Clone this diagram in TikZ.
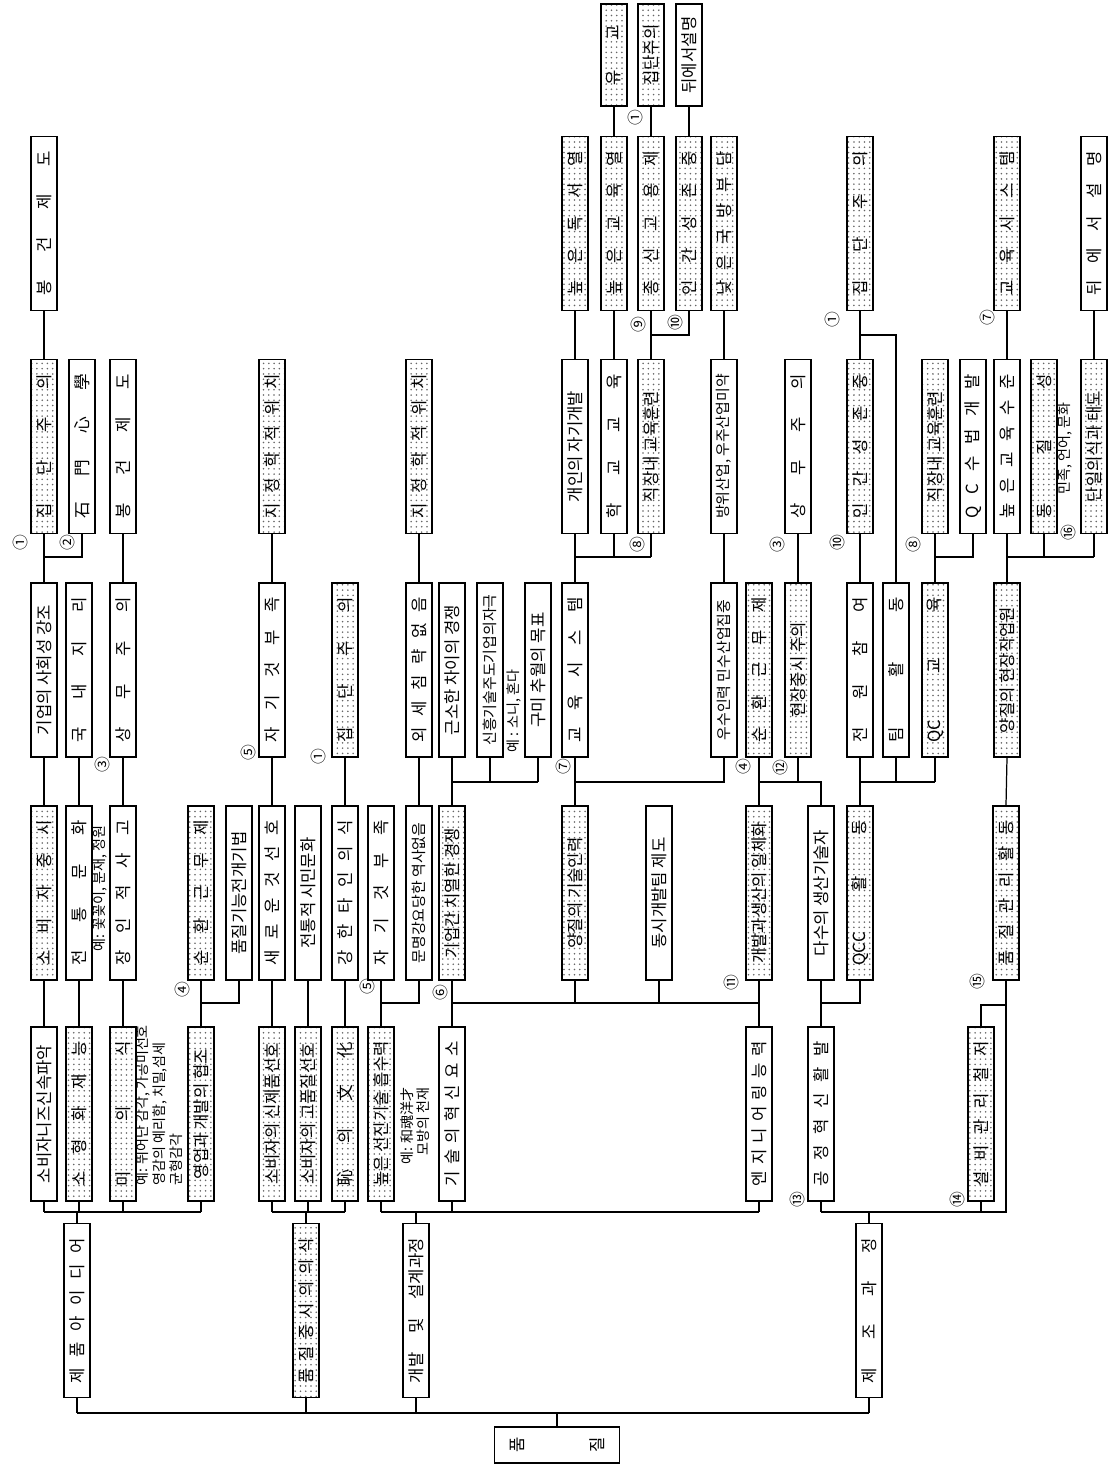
\documentclass[tikz,border=0pt]{standalone}
\usepackage{fontspec}
\setmainfont{Noto Sans CJK KR}
\usetikzlibrary{patterns}
\newcommand{\spr}[1]{\makebox[2.9cm][s]{#1}}

\begin{document}
\begin{tikzpicture}[x=0.02cm, y=-0.02cm,
      box/.style={draw, line width=0.8pt, rotate=90, minimum width=3.48cm, minimum height=0.52cm,
                  inner sep=1pt, font=\fontsize{9.5}{10}\selectfont},
      dotbox/.style={box, pattern=dots, pattern color=black!60},
      shortbox/.style={minimum width=2.04cm},
      tight/.style={font=\fontsize{8.5}{9}\selectfont},
      note/.style={rotate=90, inner sep=0pt, align=left, font=\fontsize{8}{9.5}\selectfont},
      numtag/.style={rotate=90, inner sep=0pt, font=\fontsize{9}{9}\selectfont},
      link/.style={line width=0.7pt}]
    \useasboundingbox (0,0) rectangle (1108,1465);
    % bus heights
    \coordinate (yb0) at (0,1413);
    \coordinate (yb1) at (0,1212);
    \coordinate (yb2) at (0,1003);
    \coordinate (yb2d) at (0,1005);
    \coordinate (yb3) at (0,782);
    \coordinate (yb4) at (0,557);
    \coordinate (yb5) at (0,335);

    % root and level 1
    \node[box, minimum width=0.72cm, minimum height=2.5cm, align=center] (root) at (557,1445) {품\\[1.25cm]질};
    \node[box] (n1a) at (77,1310.5) {\spr{제 품 아 이 디 어}};
    \node[dotbox] (n1b) at (306,1310.5) {\spr{품 질 중 시 의 의 식}};
    \node[box] (n1c) at (416,1310.5) {\spr{개발 및 설계과정}};
    \node[box] (n1d) at (869,1310.5) {\spr{제 조 과 정}};

    % level 2
    \node[box] (a1) at (44,1114) {소비자니즈신속파악};
    \node[dotbox] (a2) at (79,1114) {\spr{소 형 화 재 능}};
    \node[dotbox] (a3) at (123,1114) {\spr{미 의 식}};
    \node[dotbox] (a4) at (201,1114) {영업과 개발의 협조};
    \node[dotbox] (b1) at (272,1114) {소비자의 신제품선호};
    \node[dotbox] (b2) at (308,1114) {소비자의 고품질선호};
    \node[dotbox] (b3) at (345,1114) {\spr{恥 의 文 化}};
    \node[dotbox] (c1) at (381,1114) {높은 선진기술 흡수력};
    \node[box] (c2) at (452,1114) {\spr{기 술 의 혁 신 요 소}};
    \node[box] (c3) at (759,1114) {\spr{엔 지 니 어 링 능 력}};
    \node[box] (d1) at (821,1114) {\spr{공 정 혁 신 활 발}};
    \node[dotbox] (d2) at (981,1114) {\spr{설 비 관 리 철 저}};

    % level 3
    \node[dotbox] (e1) at (44,893) {\spr{소 비 자 중 시}};
    \node[box] (e2) at (79,893) {\spr{전 통 문 화}};
    \node[box] (e3) at (123,893) {\spr{장 인 적 사 고}};
    \node[dotbox] (e4) at (201,893) {\spr{순 환 근 무 제}};
    \node[box] (e5) at (239,893) {품질기능전개기법};
    \node[box] (e6) at (272,893) {\spr{새 로 운 것 선 호}};
    \node[box] (e7) at (308,893) {전통적 시민문화};
    \node[box] (e8) at (345,893) {\spr{강 한 타 인 의 식}};
    \node[box] (e9) at (381,893) {\spr{자 기 것 부 족}};
    \node[box, tight] (e10) at (419,893) {문명강요당한 역사없음};
    \node[dotbox] (e11) at (452,893) {기업간 치열한 경쟁};
    \node[dotbox] (e12) at (575,893) {양질의 기술인력};
    \node[box] (e13) at (659,893) {동시개발팀 제도};
    \node[dotbox] (e14) at (759,893) {개발과생산의 일체화};
    \node[box] (e15) at (821,893) {다수의 생산기술자};
    \node[dotbox] (e16) at (860,893) {\spr{QCC 활 동}};
    \node[dotbox] (e17) at (1006,893) {\spr{품 질 관 리 활 동}};

    % level 4
    \node[box] (f1) at (44,670) {기업의 사회성 강조};
    \node[box] (f2) at (79,670) {\spr{국 내 지 리}};
    \node[box] (f3) at (123,670) {\spr{상 무 주 의}};
    \node[box] (f4) at (272,670) {\spr{자 기 것 부 족}};
    \node[dotbox] (f5) at (345,670) {\spr{집 단 주 의}};
    \node[box] (f6) at (419,670) {\spr{외 세 침 략 없 음}};
    \node[box] (f7) at (452,670) {근소한 차이의 경쟁};
    \node[box, tight] (f8) at (490,670) {신흥기술주도기업의자극};
    \node[box] (f9) at (538,670) {구미 추월의 목표};
    \node[box] (f10) at (575,670) {\spr{교 육 시 스 템}};
    \node[box, tight] (f11) at (724,670) {우수인력 민수산업집중};
    \node[dotbox] (f12) at (759,670) {\spr{순 환 근 무 제}};
    \node[dotbox] (f13) at (798,670) {현장중시 주의};
    \node[box] (f14) at (860,670) {\spr{전 원 참 여}};
    \node[box] (f15) at (896,670) {\spr{팀 활 동}};
    \node[dotbox] (f16) at (935,670) {\spr{QC 교 육}};
    \node[dotbox] (f17) at (1007,670) {양질의 현장작업원};

    % level 5
    \node[dotbox] (g1) at (44,446.5) {\spr{집 단 주 의}};
    \node[box] (g2) at (82,446.5) {\spr{石 門 心 學}};
    \node[box] (g3) at (123,446.5) {\spr{봉 건 제 도}};
    \node[dotbox] (g4) at (272,446.5) {\spr{지 정 학 적 위 치}};
    \node[dotbox] (g5) at (419,446.5) {\spr{지 정 학 적 위 치}};
    \node[box] (g6) at (575,446.5) {개인의 자기개발};
    \node[box] (g7) at (614,446.5) {\spr{학 교 교 육}};
    \node[dotbox] (g8) at (651,446.5) {직장내 교육훈련};
    \node[box, tight] (g9) at (724,446.5) {방위산업, 우주산업미약};
    \node[box] (g10) at (798,446.5) {\spr{상 무 주 의}};
    \node[dotbox] (g11) at (860,446.5) {\spr{인 간 성 존 중}};
    \node[dotbox] (g12) at (935,446.5) {직장내 교육훈련};
    \node[box] (g13) at (973,446.5) {\spr{Q C 수 법 개 발}};
    \node[box] (g14) at (1007,446.5) {\spr{높 은 교 육 수 준}};
    \node[dotbox] (g15) at (1044,446.5) {\spr{동 질 성}};
    \node[dotbox] (g16) at (1094,446.5) {단일의식과 태도};

    % level 6
    \node[box] (h1) at (44,223.5) {\spr{봉 건 제 도}};
    \node[dotbox] (h2) at (575,223.5) {\spr{높 은 독 서 열}};
    \node[dotbox] (h3) at (614,223.5) {\spr{높 은 교 육 열}};
    \node[dotbox] (h4) at (651,223.5) {\spr{종 신 고 용 제}};
    \node[dotbox] (h5) at (689,223.5) {\spr{인 간 성 존 중}};
    \node[dotbox] (h6) at (724,223.5) {\spr{낮 은 국 방 부 담}};
    \node[dotbox] (h7) at (860,223.5) {\spr{집 단 주 의}};
    \node[dotbox] (h8) at (1007,223.5) {\spr{교 육 시 스 템}};
    \node[box] (h9) at (1094,223.5) {\spr{뒤 에 서 설 명}};

    % level 7
    \node[dotbox, shortbox] (k1) at (614,55) {\makebox[1.2cm][s]{유 교}};
    \node[dotbox, shortbox] (k2) at (651,55) {집단주의};
    \node[box, shortbox] (k3) at (689,55) {뒤에서설명};

    % examples beside the boxes
    \node[note, anchor=north west] (ex1) at (136,1186) {예: 뛰어난 감각, 가공미선호\\영감의 예리함, 치밀,섬세\\균형감각};
    \node[note, align=right, anchor=north east] (ex2) at (400,1087) {예: 和魂洋才\\모방의 천재};
    \node[note, anchor=west] (ex3) at (100,952) {예: 꽃꽂이, 분재, 정원};
    \node[note, anchor=west] (ex4) at (514,753) {예 : 소니, 혼다};
    \node[note, anchor=west] (ex5) at (1065,495) {민족, 언어, 문화};

    % reference numbers
    \node[numtag] (t1) at (20,543) {①};
    \node[numtag] (t2) at (67,543) {②};
    \node[numtag] (t3) at (102,765) {③};
    \node[numtag] (t4) at (182,990) {④};
    \node[numtag] (t5) at (248,753) {⑤};
    \node[numtag] (t6) at (318,757) {①};
    \node[numtag] (t7) at (367,987) {⑤};
    \node[numtag] (t8) at (440,993) {⑥};
    \node[numtag] (t9) at (563,767) {⑦};
    \node[numtag] (t10) at (637,545) {⑧};
    \node[numtag] (t11) at (638,325) {⑨};
    \node[numtag] (t12) at (675,323) {⑩};
    \node[numtag] (t13) at (635,118) {①};
    \node[numtag] (t14) at (731,983) {⑪};
    \node[numtag] (t15) at (743,767) {④};
    \node[numtag] (t16) at (780,768) {⑫};
    \node[numtag] (t17) at (777,545) {③};
    \node[numtag] (t18) at (837,543) {⑩};
    \node[numtag] (t19) at (913,545) {⑧};
    \node[numtag] (t20) at (832,320) {①};
    \node[numtag] (t21) at (987,318) {⑦};
    \node[numtag] (t22) at (1068,533) {⑯};
    \node[numtag] (t23) at (797,1200) {⑬};
    \node[numtag] (t24) at (957,1200) {⑭};
    \node[numtag] (t25) at (977,982) {⑮};

    % root -> level 1
    \draw[link] (root.east) -- (root.east |- yb0);
    \draw[link] (n1a.west |- yb0) -- (n1d.west |- yb0);
    \foreach \k in {n1a,n1b,n1c,n1d} \draw[link] (\k.west) -- (\k.west |- yb0);

    % level 1 -> level 2
    \draw[link] (n1a.east) -- (n1a.east |- yb1);
    \draw[link] (a1.west |- yb1) -- (a4.west |- yb1);
    \foreach \k in {a1,a2,a3,a4} \draw[link] (\k.west) -- (\k.west |- yb1);
    \draw[link] (n1b.east) -- (n1b.east |- yb1);
    \draw[link] (b1.west |- yb1) -- (b3.west |- yb1);
    \foreach \k in {b1,b2,b3} \draw[link] (\k.west) -- (\k.west |- yb1);
    \draw[link] (n1c.east) -- (n1c.east |- yb1);
    \draw[link] (c1.west |- yb1) -- (c3.west |- yb1);
    \foreach \k in {c1,c2,c3} \draw[link] (\k.west) -- (\k.west |- yb1);
    \draw[link] (n1d.east) -- (n1d.east |- yb1);
    \draw[link] (d1.west |- yb1) -- (e17.west |- yb1) -- (e17.west);
    \foreach \k in {d1,d2} \draw[link] (\k.west) -- (\k.west |- yb1);
    \draw[link] (d2.east) -- (d2.east |- yb2d) -- (e17.west |- yb2d);

    % level 2 -> level 3
    \foreach \a/\b in {a1/e1,a2/e2,a3/e3,b1/e6,b2/e7,b3/e8,c3/e14} \draw[link] (\a.east) -- (\b.west);
    \draw[link] (a4.east) -- (a4.east |- yb2) -- (e5.west |- yb2) -- (e5.west);
    \draw[link] (e4.west) -- (e4.west |- yb2);
    \draw[link] (c1.east) -- (c1.east |- yb2) -- (e10.west |- yb2) -- (e10.west);
    \draw[link] (e9.west) -- (e9.west |- yb2);
    \draw[link] (c2.east) -- (c2.east |- yb2) -- (c3.east |- yb2);
    \foreach \k in {e11,e12,e13} \draw[link] (\k.west) -- (\k.west |- yb2);
    \draw[link] (d1.east) -- (d1.east |- yb2) -- (e16.west |- yb2) -- (e16.west);
    \draw[link] (e15.west) -- (e15.west |- yb2);

    % level 3 -> level 4
    \foreach \a/\b in {e1/f1,e2/f2,e3/f3,e6/f4,e8/f5,e10/f6,e17/f17,e14/f12,e12/f10,e11/f7,e16/f14} \draw[link] (\a.east) -- (\b.west);
    \draw[link] (f7.west |- yb3) -- (f9.west |- yb3);
    \foreach \k in {f8,f9} \draw[link] (\k.west) -- (\k.west |- yb3);
    \draw[link] (f10.west |- yb3) -- (f11.west |- yb3) -- (f11.west);
    \draw[link] (f12.west |- yb3) -- (e15.east |- yb3) -- (e15.east);
    \draw[link] (f13.west) -- (f13.west |- yb3);
    \draw[link] (f14.west |- yb3) -- (f16.west |- yb3);
    \foreach \k in {f15,f16} \draw[link] (\k.west) -- (\k.west |- yb3);

    % level 4 -> level 5
    \foreach \a/\b in {f1/g1,f3/g3,f4/g4,f6/g5,f11/g9,f13/g10,f14/g11,f10/g6,f16/g12,f17/g14} \draw[link] (\a.east) -- (\b.west);
    \draw[link] (f1.east |- yb4) -- (g2.west |- yb4) -- (g2.west);
    \draw[link] (g6.west |- yb4) -- (g8.west |- yb4);
    \foreach \k in {g7,g8} \draw[link] (\k.west) -- (\k.west |- yb4);
    \draw[link] (g12.west |- yb4) -- (g13.west |- yb4) -- (g13.west);
    \draw[link] (g14.west |- yb4) -- (g16.west |- yb4);
    \foreach \k in {g15,g16} \draw[link] (\k.west) -- (\k.west |- yb4);
    \draw[link] (f15.east) -- (f15.east |- yb5) -- (g11.east |- yb5);

    % level 5 -> level 6 -> level 7
    \foreach \a/\b in {g1/h1,g6/h2,g7/h3,g8/h4,g9/h6,g11/h7,g14/h8,g16/h9,h3/k1,h4/k2,h5/k3} \draw[link] (\a.east) -- (\b.west);
    \draw[link] (g8.east |- yb5) -- (h5.west |- yb5) -- (h5.west);
\end{tikzpicture}
\end{document}
